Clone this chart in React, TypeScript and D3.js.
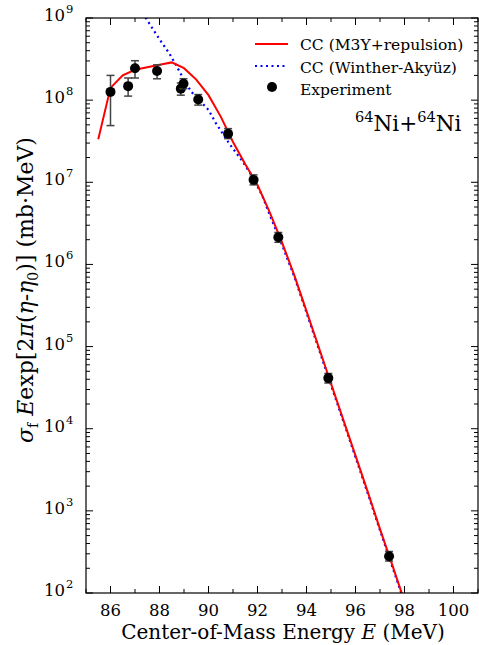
import React from "react";
import * as d3 from "d3";

const expE = [86.0, 86.72, 87.0, 87.9, 88.87, 88.98, 89.58, 90.8, 91.84, 92.85, 94.89, 97.37];
const expVal = [1.26e8, 1.48e8, 2.45e8, 2.26e8, 1.38e8, 1.58e8, 1.02e8, 3.9e7, 1.07e7, 2.14e6, 4.13e4, 2.8e2];
const expLo = [4.9e7, 1.12e8, 1.86e8, 1.82e8, 1.15e8, 1.38e8, 8.7e7, 3.4e7, 9.3e6, 1.86e6, 3.6e4, 2.45e2];
const expHi = [2.0e8, 1.86e8, 3.02e8, 2.69e8, 1.62e8, 1.82e8, 1.17e8, 4.5e7, 1.23e7, 2.45e6, 4.7e4, 3.2e2];

const m3yE = [85.5, 86.0, 86.5, 87.0, 87.5, 88.0, 88.5, 89.0, 89.5, 90.0, 90.5, 91.0, 91.5, 92.0, 92.5, 93.0, 93.5, 94.0, 94.5, 95.0, 95.5, 96.0, 96.5, 97.0, 97.5, 98.0];
const m3yVal = [3.35e7, 1.41e8, 2.0e8, 2.34e8, 2.51e8, 2.69e8, 2.88e8, 2.45e8, 1.78e8, 1.15e8, 6.3e7, 3.1e7, 1.66e7, 9.3e6, 4.3e6, 1.86e6, 7.4e5, 2.7e5, 9.8e4, 3.55e4, 1.29e4, 4.7e3, 1.7e3, 6.0e2, 2.2e2, 7.9e1];

const waE = [87.2, 87.44, 87.87, 88.08, 88.4, 88.65, 89.0, 89.3, 89.63, 90.0, 90.3, 90.85, 91.33, 91.8, 92.2, 92.5, 93.0, 93.5, 94.0, 94.5, 95.0, 95.5, 96.0, 96.5, 97.0, 97.5, 98.0];
const waVal = [1.32e9, 1.0e9, 6.3e8, 5.1e8, 3.7e8, 2.75e8, 1.78e8, 1.26e8, 1.0e8, 7.6e7, 5.25e7, 2.95e7, 1.9e7, 1.17e7, 6.8e6, 4.0e6, 1.74e6, 7.1e5, 2.6e5, 9.4e4, 3.4e4, 1.24e4, 4.5e3, 1.63e3, 5.8e2, 2.1e2, 7.6e1];

const xTicks = [86, 88, 90, 92, 94, 96, 98, 100];
const yExps = [2, 3, 4, 5, 6, 7, 8, 9];

const legendLabels = ["CC (M3Y+repulsion)", "CC (Winther-Aky\u00fcz)", "Experiment"];

const W = 479, H = 645;
const L = 86, R = 478, T = 18, B = 593;
const FONT = "'DejaVu Serif', serif";

export default function App() {
  const x = d3.scaleLinear().domain([85, 101]).range([L, R]);
  const y = d3.scaleLog().domain([1e2, 1e9]).range([B, T]);
  const line = d3.line<[number, number]>().x(d => x(d[0])).y(d => y(d[1]));
  const redPath = line(m3yE.map((e, i) => [e, m3yVal[i]]));
  const bluePath = line(waE.map((e, i) => [e, waVal[i]]));
  const ts = { fontFamily: FONT };

  const minorX = d3.range(85, 101.01, 1).filter(v => !xTicks.includes(v));
  const minorY: number[] = [];
  for (let e = 2; e < 9; e++) for (let k = 2; k <= 9; k++) minorY.push(k * Math.pow(10, e));

  return (
    <svg width={W} height={H} style={{ position: "absolute", left: 0, top: 0, background: "#fff", fontFamily: FONT }}>
      <defs>
        <clipPath id="plot">
          <rect x={L} y={T} width={R - L} height={B - T} />
        </clipPath>
      </defs>
      <rect x={0} y={0} width={W} height={H} fill="#fff" />
      <g clipPath="url(#plot)">
        <path d={bluePath || ""} fill="none" stroke="#0000ff" strokeWidth={2.2} strokeDasharray="2,3.5" />
        <path d={redPath || ""} fill="none" stroke="#ff0000" strokeWidth={2} />
      </g>
      <g>
        {expE.map((e, i) => {
          const cx = x(e);
          return (
            <g key={i}>
              <line x1={cx} x2={cx} y1={y(expLo[i])} y2={y(expHi[i])} stroke="#444" strokeWidth={1.5} />
              <line x1={cx - 4} x2={cx + 4} y1={y(expLo[i])} y2={y(expLo[i])} stroke="#444" strokeWidth={1.5} />
              <line x1={cx - 4} x2={cx + 4} y1={y(expHi[i])} y2={y(expHi[i])} stroke="#444" strokeWidth={1.5} />
              <circle cx={cx} cy={y(expVal[i])} r={5} fill="#000" />
            </g>
          );
        })}
      </g>
      <rect x={L} y={T} width={R - L} height={B - T} fill="none" stroke="#000" strokeWidth={1.2} />
      {xTicks.map(v => (
        <g key={"xt" + v}>
          <line x1={x(v)} x2={x(v)} y1={B} y2={B - 7} stroke="#000" strokeWidth={1} />
          <line x1={x(v)} x2={x(v)} y1={T} y2={T + 7} stroke="#000" strokeWidth={1} />
          <text x={x(v)} y={616} fontSize={16.5} textAnchor="middle" style={ts}>{v}</text>
        </g>
      ))}
      {minorX.map(v => (
        <g key={"xm" + v}>
          <line x1={x(v)} x2={x(v)} y1={B} y2={B - 4} stroke="#000" strokeWidth={1} />
          <line x1={x(v)} x2={x(v)} y1={T} y2={T + 4} stroke="#000" strokeWidth={1} />
        </g>
      ))}
      {yExps.map(e => {
        const yy = y(Math.pow(10, e));
        return (
          <g key={"yt" + e}>
            <line x1={L} x2={L + 7} y1={yy} y2={yy} stroke="#000" strokeWidth={1} />
            <line x1={R} x2={R - 7} y1={yy} y2={yy} stroke="#000" strokeWidth={1} />
            <text x={65} y={yy + 3} fontSize={16.5} textAnchor="end" style={ts}>10</text>
            <text x={66} y={yy - 5} fontSize={11.5} textAnchor="start" style={ts}>{e}</text>
          </g>
        );
      })}
      {minorY.map((v, i) => (
        <g key={"ym" + i}>
          <line x1={L} x2={L + 4} y1={y(v)} y2={y(v)} stroke="#000" strokeWidth={1} />
          <line x1={R} x2={R - 4} y1={y(v)} y2={y(v)} stroke="#000" strokeWidth={1} />
        </g>
      ))}
      <text x={(L + R) / 2 + 1} y={639} fontSize={20} textAnchor="middle" style={ts}>
        Center-of-Mass Energy <tspan fontStyle="italic">E</tspan> (MeV)
      </text>
      <text transform="translate(33,290) rotate(-90)" fontSize={22} textAnchor="middle" style={ts}>
        <tspan fontStyle="italic">{"\u03c3"}</tspan>
        <tspan fontSize={14} dy={5}>f</tspan>
        <tspan dy={-5}> </tspan>
        <tspan fontStyle="italic">E</tspan>
        <tspan>exp[2</tspan>
        <tspan fontStyle="italic">{"\u03c0"}</tspan>
        <tspan>(</tspan>
        <tspan fontStyle="italic">{"\u03b7"}</tspan>
        <tspan>-</tspan>
        <tspan fontStyle="italic">{"\u03b7"}</tspan>
        <tspan fontSize={14} dy={5}>0</tspan>
        <tspan dy={-5}>{")] (mb\u00b7MeV)"}</tspan>
      </text>
      <line x1={255} x2={288} y1={44} y2={44} stroke="#ff0000" strokeWidth={2} />
      <text x={300} y={50} fontSize={15.5} style={ts}>{legendLabels[0]}</text>
      <line x1={255} x2={288} y1={66} y2={66} stroke="#0000ff" strokeWidth={2.2} strokeDasharray="2,3.5" />
      <text x={300} y={73} fontSize={15.5} style={ts}>{legendLabels[1]}</text>
      <circle cx={272} cy={87} r={5} fill="#000" />
      <text x={300} y={95} fontSize={15.5} style={ts}>{legendLabels[2]}</text>
      <text x={355} y={131} fontSize={21.5} style={ts}>
        <tspan fontSize={14.5} dy={-9}>64</tspan>
        <tspan dy={9}>Ni+</tspan>
        <tspan fontSize={14.5} dy={-9}>64</tspan>
        <tspan dy={9}>Ni</tspan>
      </text>
    </svg>
  );
}
